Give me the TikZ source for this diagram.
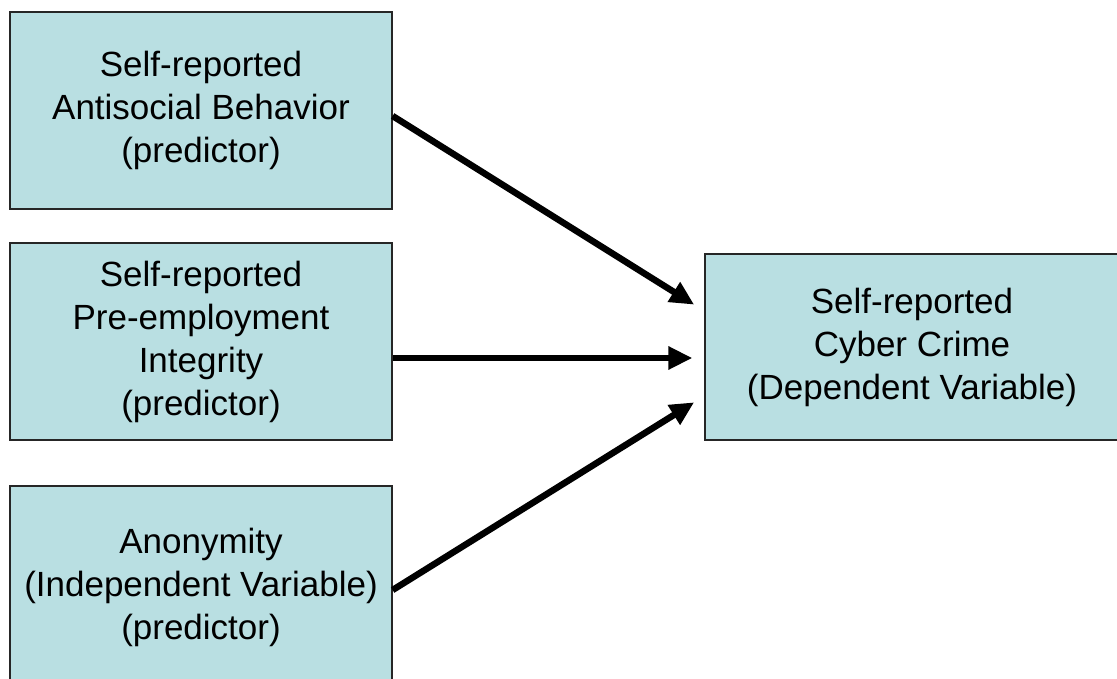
\documentclass[tikz,border=0pt]{standalone}
\usepackage{fontspec}
\setmainfont{Liberation Sans}
\usetikzlibrary{arrows.meta}
\definecolor{boxfill}{RGB}{185,223,226}
\begin{document}
\begin{tikzpicture}[x=1pt,y=-1pt,
  box/.style={draw=black!85, line width=1.3pt, fill=boxfill, inner sep=0pt,
    align=center, font=\fontsize{35}{43}\selectfont},
  arr/.style={line width=6.5pt, -{Triangle[length=24pt,width=22pt]}, shorten >=12pt}]
\useasboundingbox (0,0) rectangle (1117,679);
\clip (0,0) rectangle (1117,679);
\node[box, minimum width=382pt, minimum height=197pt] (a) at (201,110.5)
  {Self-reported\\Antisocial Behavior\\(predictor)};
\node[box, minimum width=382pt, minimum height=197pt] (b) at (201,341.5)
  {Self-reported\\Pre-employment\\Integrity\\(predictor)};
\node[box, minimum width=382pt, minimum height=202pt] (c) at (201,587)
  {Anonymity\\(Independent Variable)\\(predictor)};
\node[box, minimum width=414pt, minimum height=186pt] (d) at (912,347)
  {Self-reported\\Cyber Crime\\(Dependent Variable)};
\draw[arr] ([yshift=-5.5pt]a.east) -- ([yshift=36pt]d.west);
\draw[arr] ([yshift=-16.5pt]b.east) -- ([yshift=-11pt]d.west);
\draw[arr] ([yshift=-3pt]c.east) -- ([yshift=-49pt]d.west);
\end{tikzpicture}
\end{document}
